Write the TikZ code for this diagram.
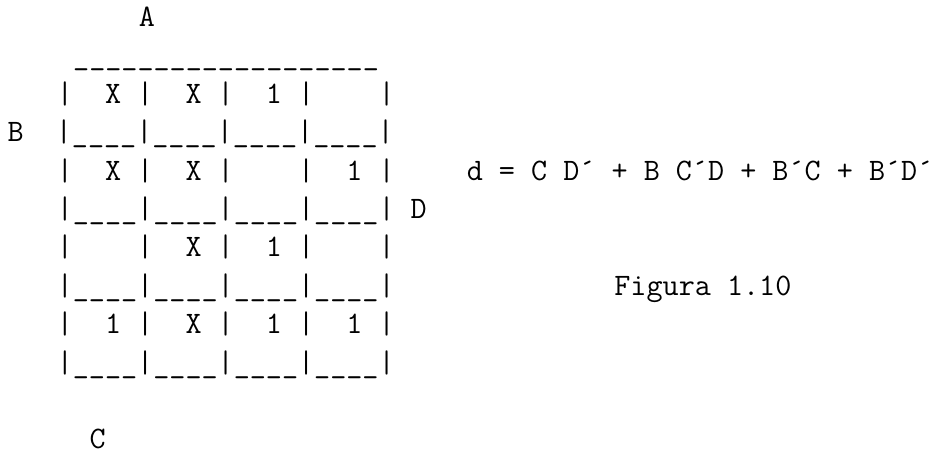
\documentclass[tikz,border=0pt]{standalone}
\newcommand\ub{\_\_\_\_}
\tikzset{
  ascii/.style={anchor=base west, inner sep=0pt, outer sep=0pt,
    font=\ttfamily\frenchspacing\fontsize{31.24}{38.4}\selectfont}
}
% column c, line n  ->  x = 7.6 + 16.4 c ,  y = -(26.5 + 38.4 n)
\newcommand\at[2]{({7.6+16.4*(#2)},{-(26.5+38.4*(#1))})}
\begin{document}
\begin{tikzpicture}[x=1pt,y=1pt]
\useasboundingbox (0,0) rectangle (943,-453);
\node[ascii] (lA)   at \at{0}{8}  {A};
\node[ascii] (ltop) at \at{1}{4}  {\ub\ub\ub\ub\_\_\_};
\node[ascii] (r1)   at \at{2}{3}  {|~~X~|~~X~|~~1~|~~~~|};
\node[ascii] (r2)   at \at{3}{0}  {B~~|\ub|\ub|\ub|\ub|};
\node[ascii] (r3)   at \at{4}{3}  {|~~X~|~~X~|~~~~|~~1~|};
\node[ascii] (eq)   at \at{4}{28} {d~=~C~D´~+~B~C´D~+~B´C~+~B´D´};
\node[ascii] (r4)   at \at{5}{3}  {|\ub|\ub|\ub|\ub|~D};
\node[ascii] (r5)   at \at{6}{3}  {|~~~~|~~X~|~~1~|~~~~|};
\node[ascii] (r6)   at \at{7}{3}  {|\ub|\ub|\ub|\ub|};
\node[ascii] (fig)  at \at{7}{37} {Figura~1.10};
\node[ascii] (r7)   at \at{8}{3}  {|~~1~|~~X~|~~1~|~~1~|};
\node[ascii] (r8)   at \at{9}{3}  {|\ub|\ub|\ub|\ub|};
\node[ascii] (lC)   at \at{11}{5} {C};
\end{tikzpicture}
\end{document}
